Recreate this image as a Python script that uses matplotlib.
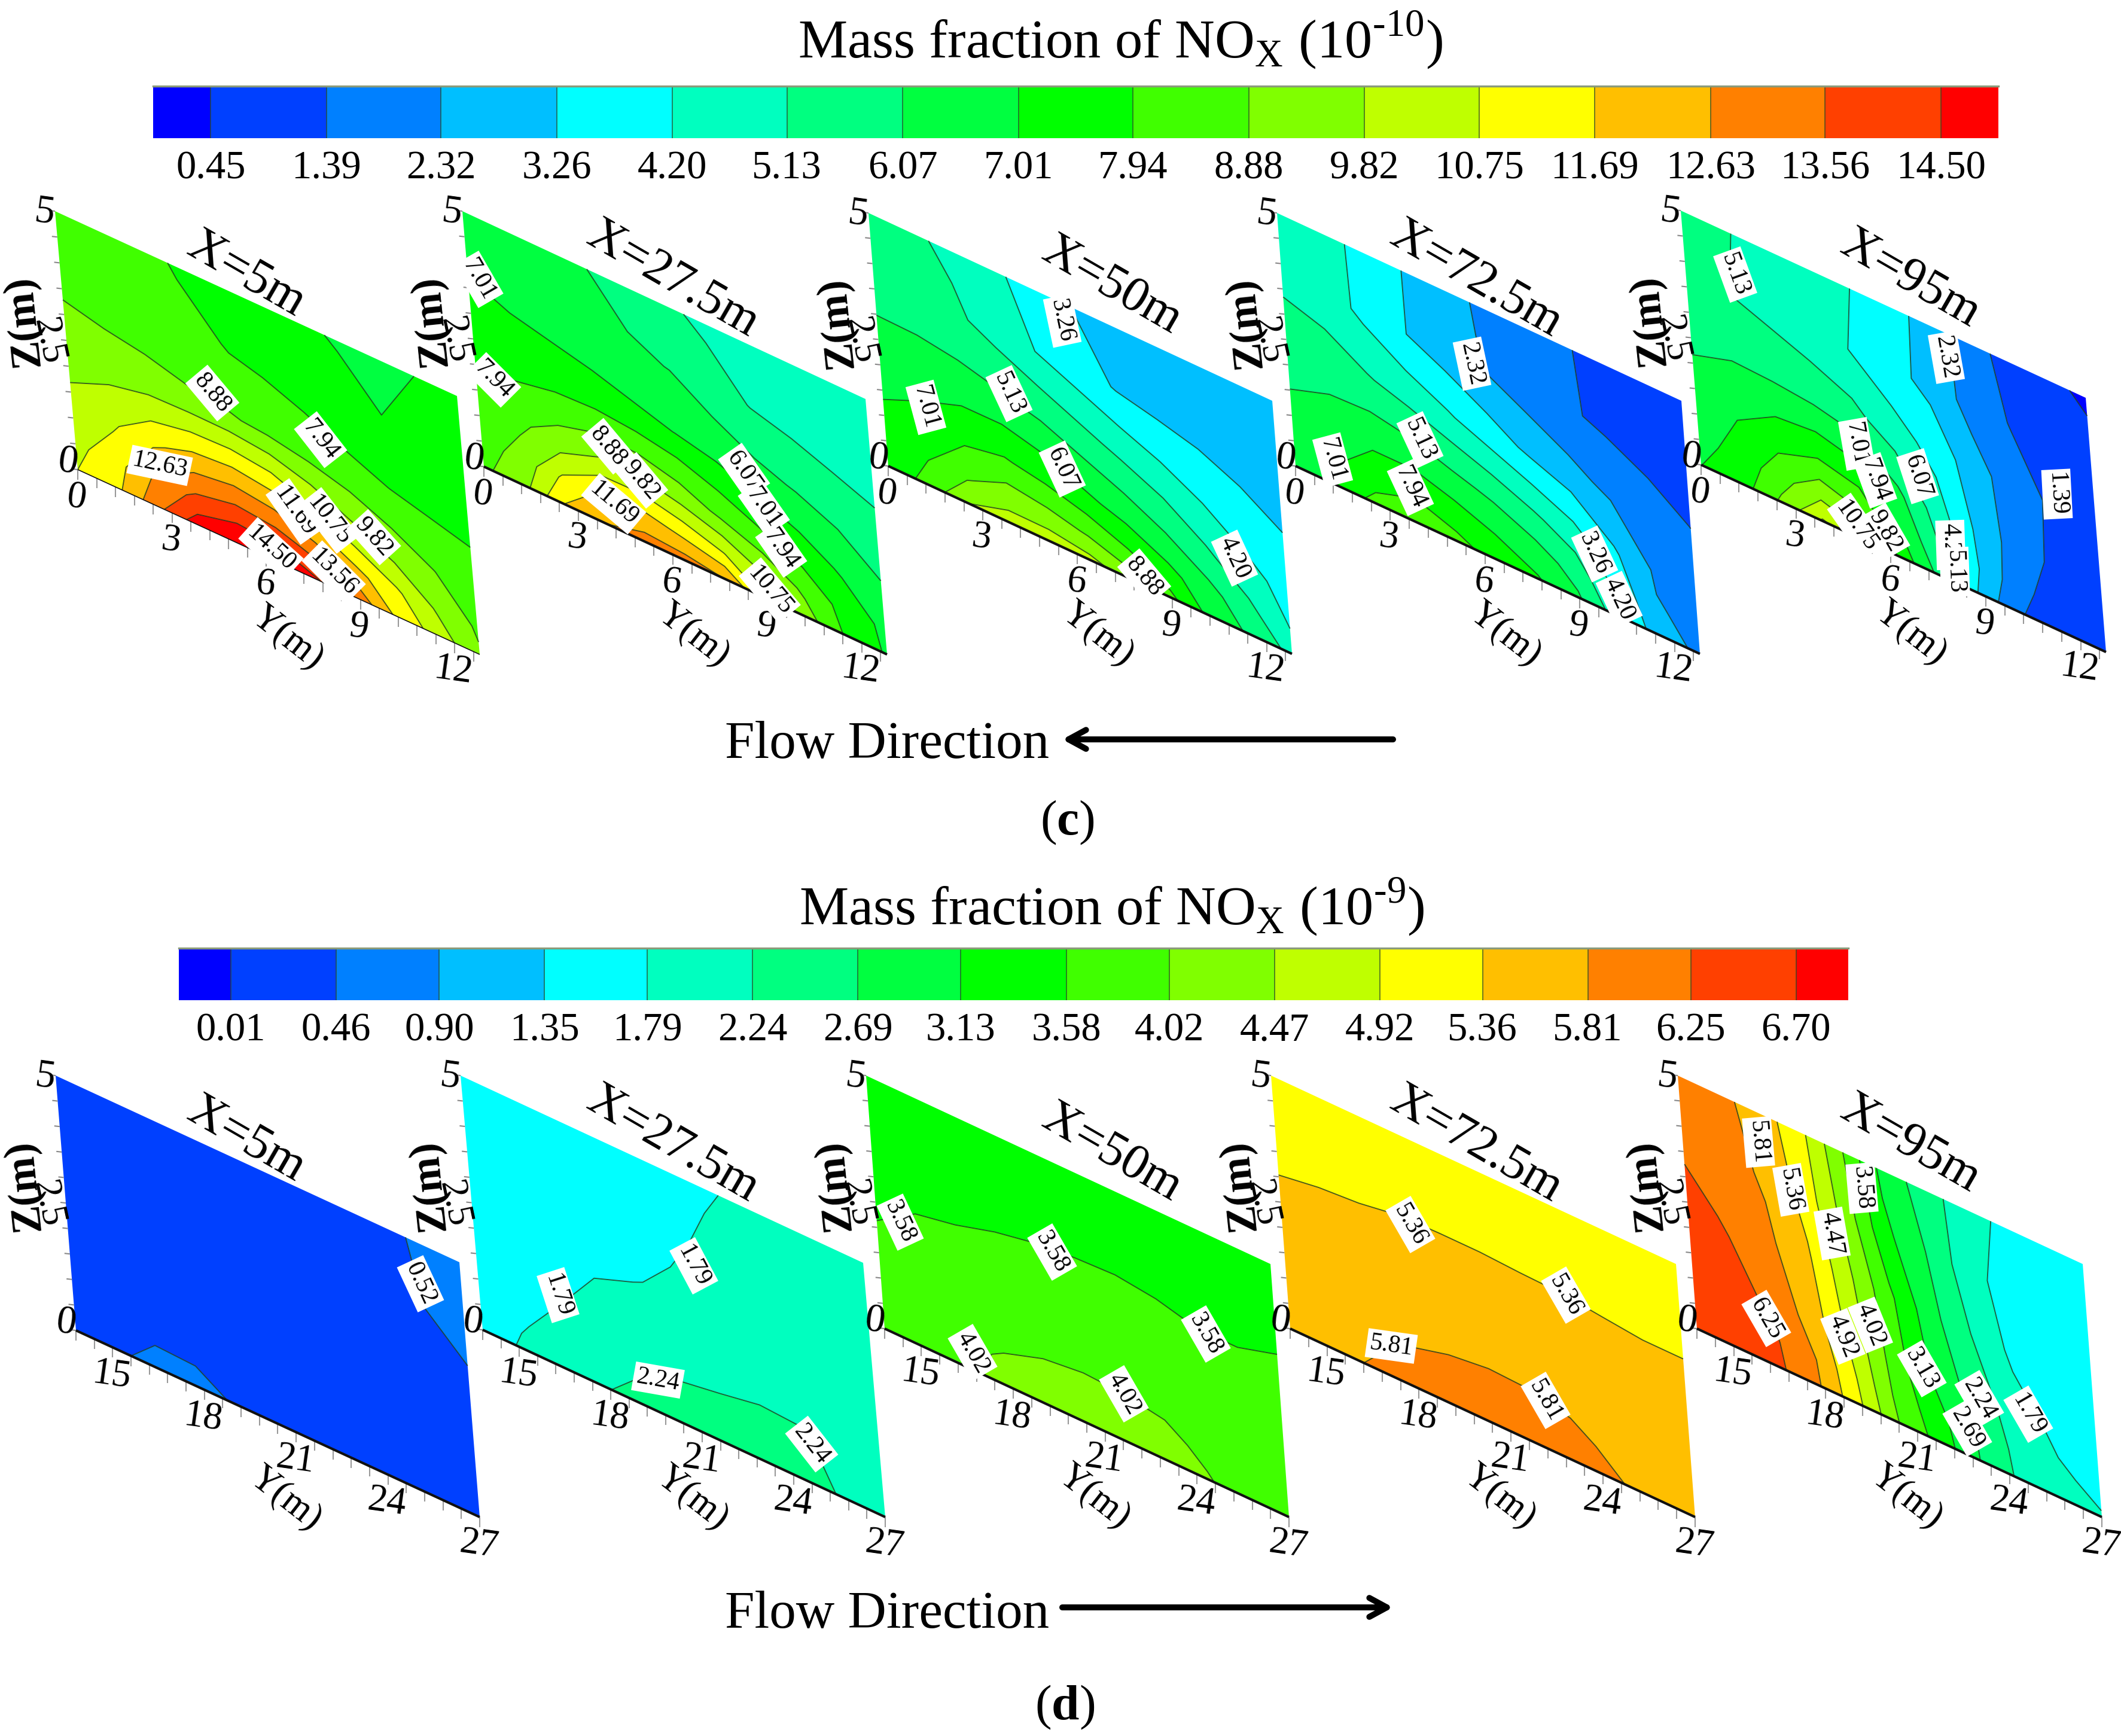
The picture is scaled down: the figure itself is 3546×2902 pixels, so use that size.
import numpy as np
import matplotlib
matplotlib.use("Agg")
import matplotlib.pyplot as plt
from matplotlib.colors import ListedColormap, BoundaryNorm
from matplotlib.patches import Polygon
from matplotlib.transforms import Affine2D

plt.rcParams["font.family"] = ["Liberation Serif", "DejaVu Serif"]
plt.rcParams["mathtext.fontset"] = "custom"
plt.rcParams["mathtext.rm"] = "Liberation Serif"
plt.rcParams["mathtext.bf"] = "Liberation Serif:bold"

W, H = 3546, 2902

BAND_COLORS = ["#0000ff", "#0040ff", "#0080ff", "#00bfff", "#00ffff", "#00ffbf", "#00ff80", "#00ff40",
               "#00ff00", "#40ff00", "#80ff00", "#bfff00", "#ffff00", "#ffbf00", "#ff8000", "#ff4000", "#ff0000"]

LEVELS_C = [0.45, 1.39, 2.32, 3.26, 4.20, 5.13, 6.07, 7.01, 7.94, 8.88, 9.82, 10.75, 11.69, 12.63, 13.56, 14.50]
LEVELS_D = [0.01, 0.46, 0.90, 1.35, 1.79, 2.24, 2.69, 3.13, 3.58, 4.02, 4.47, 4.92, 5.36, 5.81, 6.25, 6.70]

Z_NODES = [0, 0.5, 1.25, 2.5, 3.75, 5]
Y_NODES_C = [0, 1.28, 2.56, 3.84, 5.12, 6.4, 7.68, 8.96, 10.24, 11.52, 12.8]
Y_NODES_D = [13.8, 15.12, 16.44, 17.76, 19.08, 20.4, 21.72, 23.04, 24.36, 25.68, 27]

# rows go from Z=0 up to Z=5, columns along Y
c_x5 = [[10.75, 11.5, 13.3, 15.0, 15.6, 15.4, 14.55, 13.2, 11.4, 10.3, 9.0],
        [10.48, 11.3, 12.8, 13.8, 14.2, 14.0, 13.3, 12.0, 10.9, 9.7, 8.75],
        [10.07, 10.6, 11.5, 12.1, 12.3, 12.0, 11.1, 10.2, 9.45, 8.9, 8.4],
        [9.35, 9.3, 9.2, 9.05, 8.95, 8.75, 8.45, 8.2, 7.95, 7.75, 7.7],
        [8.6, 8.4, 8.3, 8.1, 7.97, 7.8, 7.6, 7.3, 7.05, 7.1, 7.3],
        [8.5, 8.3, 8.1, 7.9, 7.65, 7.4, 7.15, 6.95, 6.75, 7.03, 7.2]]
c_x27 = [[8.7, 9.5, 11.7, 12.6, 13.0, 13.0, 12.6, 10.6, 9.3, 7.8, 6.9],
         [8.5, 9.2, 10.9, 11.9, 12.0, 11.5, 10.8, 9.7, 8.7, 7.6, 6.8],
         [8.15, 8.7, 9.3, 9.9, 9.9, 9.4, 8.7, 8.1, 7.5, 6.9, 6.2],
         [7.55, 7.5, 7.5, 7.4, 7.2, 7.0, 6.7, 6.3, 6.0, 5.65, 5.35],
         [7.0, 6.8, 6.6, 6.4, 6.2, 6.05, 5.55, 5.1, 4.9, 4.7, 4.6],
         [6.8, 6.6, 6.4, 6.1, 5.75, 5.3, 4.95, 4.7, 4.55, 4.45, 4.4]]
c_x50 = [[7.3, 8.25, 9.82, 10.2, 10.35, 10.1, 9.4, 8.2, 6.7, 5.9, 4.85],
         [7.2, 7.9, 8.8, 9.4, 9.2, 8.8, 8.1, 7.3, 6.4, 5.4, 4.2],
         [7.05, 7.3, 7.8, 8.0, 7.7, 7.2, 6.7, 6.1, 5.3, 4.5, 3.9],
         [6.3, 6.4, 6.35, 6.2, 5.9, 5.4, 4.9, 4.4, 3.9, 3.5, 3.2],
         [5.7, 5.5, 5.3, 4.8, 4.2, 3.7, 3.2, 3.0, 2.9, 2.8, 2.75],
         [5.5, 5.3, 4.95, 4.4, 3.9, 3.26, 2.95, 2.8, 2.7, 2.65, 2.6]]
c_x72 = [[6.4, 7.3, 8.2, 8.7, 8.2, 7.6, 7.1, 6.2, 4.6, 2.6, 2.2],
         [6.2, 6.9, 7.6, 7.9, 7.5, 7.0, 6.5, 5.7, 4.0, 2.4, 2.1],
         [6.2, 6.5, 6.8, 6.7, 6.3, 5.9, 5.3, 4.6, 3.4, 2.2, 1.85],
         [5.6, 5.5, 5.2, 4.8, 4.3, 3.7, 3.1, 2.6, 2.1, 1.7, 1.38],
         [4.9, 4.7, 4.0, 3.3, 2.8, 2.3, 1.85, 1.5, 1.25, 1.05, 1.0],
         [4.7, 4.4, 4.1, 3.3, 2.7, 2.2, 1.8, 1.45, 1.25, 1.0, 0.85]]
c_x95 = [[7.0, 7.5, 9.05, 10.85, 10.2, 7.5, 5.6, 2.8, 1.39, 1.1, 0.95],
         [6.75, 7.3, 8.5, 9.6, 9.0, 7.0, 5.1, 3.1, 1.5, 1.1, 0.95],
         [6.4, 7.0, 7.6, 7.9, 7.5, 6.3, 4.6, 3.0, 1.75, 1.15, 0.95],
         [5.95, 6.0, 5.9, 5.7, 5.4, 4.6, 3.9, 2.7, 1.8, 1.2, 0.95],
         [5.4, 5.15, 4.9, 4.6, 4.2, 3.6, 3.0, 2.0, 1.35, 0.9, 0.7],
         [5.5, 5.2, 4.9, 4.6, 4.3, 3.7, 3.0, 1.9, 1.1, 0.6, 0.35]]

d_x5 = [[0.3, 0.38, 0.6, 0.58, 0.42, 0.3, 0.3, 0.3, 0.3, 0.3, 0.3],
        [0.3, 0.34, 0.44, 0.43, 0.36, 0.3, 0.3, 0.3, 0.3, 0.3, 0.3],
        [0.3, 0.3, 0.3, 0.3, 0.3, 0.3, 0.3, 0.3, 0.3, 0.3, 0.35],
        [0.3, 0.3, 0.3, 0.3, 0.3, 0.3, 0.3, 0.3, 0.3, 0.33, 0.4],
        [0.3, 0.3, 0.3, 0.3, 0.3, 0.3, 0.3, 0.3, 0.35, 0.46, 0.56],
        [0.3, 0.3, 0.3, 0.3, 0.3, 0.3, 0.3, 0.3, 0.38, 0.5, 0.72]]
d_x27 = [[1.5, 1.85, 2.0, 2.2, 2.4, 2.45, 2.45, 2.5, 2.45, 2.18, 2.05],
         [1.55, 1.75, 1.95, 2.1, 2.25, 2.35, 2.38, 2.4, 2.35, 2.12, 2.0],
         [1.55, 1.65, 1.78, 1.95, 2.05, 2.1, 2.15, 2.2, 2.2, 2.05, 1.95],
         [1.55, 1.6, 1.68, 1.72, 1.77, 1.85, 1.95, 2.0, 2.0, 1.97, 1.95],
         [1.55, 1.55, 1.55, 1.6, 1.65, 1.72, 1.85, 1.9, 1.92, 1.93, 1.93],
         [1.55, 1.55, 1.55, 1.55, 1.6, 1.65, 1.75, 1.85, 1.9, 1.9, 1.9]]
d_x50 = [[3.75, 3.85, 3.98, 4.13, 4.25, 4.3, 4.3, 4.25, 4.05, 3.85, 3.75],
         [3.72, 3.82, 3.95, 4.05, 4.12, 4.15, 4.15, 4.1, 3.95, 3.82, 3.75],
         [3.7, 3.75, 3.83, 3.88, 3.93, 3.95, 3.93, 3.9, 3.85, 3.78, 3.73],
         [3.53, 3.6, 3.62, 3.66, 3.7, 3.72, 3.72, 3.68, 3.63, 3.63, 3.66],
         [3.4, 3.42, 3.45, 3.47, 3.48, 3.49, 3.5, 3.5, 3.5, 3.5, 3.52],
         [3.3, 3.3, 3.32, 3.33, 3.34, 3.35, 3.35, 3.35, 3.35, 3.35, 3.35]]
d_x72 = [[5.6, 5.72, 5.83, 5.95, 6.02, 6.07, 6.05, 6.0, 5.85, 5.7, 5.62],
         [5.58, 5.68, 5.76, 5.87, 5.93, 5.97, 5.96, 5.9, 5.75, 5.64, 5.58],
         [5.52, 5.58, 5.63, 5.7, 5.74, 5.76, 5.75, 5.7, 5.62, 5.55, 5.52],
         [5.42, 5.45, 5.47, 5.49, 5.5, 5.5, 5.48, 5.47, 5.44, 5.42, 5.42],
         [5.28, 5.28, 5.28, 5.3, 5.3, 5.3, 5.3, 5.3, 5.3, 5.3, 5.3],
         [5.15, 5.15, 5.15, 5.15, 5.15, 5.15, 5.15, 5.15, 5.15, 5.15, 5.15]]
d_x95 = [[6.6, 6.5, 6.35, 5.87, 5.02, 4.02, 3.4, 2.69, 2.15, 1.9, 1.82],
         [6.55, 6.45, 6.3, 5.81, 4.92, 3.9, 3.3, 2.65, 2.1, 1.85, 1.7],
         [6.5, 6.4, 6.15, 5.6, 4.75, 3.8, 3.05, 2.5, 2.0, 1.7, 1.6],
         [6.4, 6.2, 5.9, 5.42, 4.55, 3.67, 2.85, 2.24, 1.7, 1.55, 1.55],
         [6.15, 6.0, 5.75, 5.2, 4.3, 3.25, 2.69, 2.0, 1.6, 1.5, 1.5],
         [6.1, 5.95, 5.6, 5.07, 4.1, 3.03, 2.5, 2.03, 1.7, 1.55, 1.5]]

X_NAMES = ["X=5m", "X=27.5m", "X=50m", "X=72.5m", "X=95m"]
X_LABEL_POS_C = [(411, 459), (1124, 467), (1858, 478), (2467, 467), (3193, 467)]
X_LABEL_POS_D = [(411, 1905), (1124, 1913), (1858, 1928), (2467, 1913), (3193, 1913)]

# corners as bottom-left, bottom-right, top-left, in picture pixels
CORNERS_C = [((130, 785), (802, 1094), (92, 353)),
             ((809, 780), (1483, 1094), (773, 353)),
             ((1485, 779), (2160, 1093), (1452, 356)),
             ((2166, 779), (2842, 1093), (2135, 356)),
             ((2844, 777), (3521, 1090), (2810, 352))]
CORNERS_D = [((127, 2224), (802, 2536), (93, 1798)),
             ((807, 2223), (1480, 2536), (770, 1798)),
             ((1479, 2221), (2155, 2536), (1448, 1798)),
             ((2157, 2221), (2834, 2536), (2125, 1798)),
             ((2837, 2221), (3514, 2536), (2805, 1798))]

LABELS_C = [
    [("8.88", 355, 657, -50), ("7.94", 536, 735, -52), ("12.63", 267, 778, -12), ("11.69", 493, 855, -55),
     ("10.75", 550, 870, -52), ("9.82", 625, 898, -48), ("14.50", 453, 917, -42), ("13.56", 558, 957, -45)],
    [("7.01", 800, 467, -60), ("7.94", 825, 635, -45), ("8.88", 1017, 746, -50), ("9.82", 1072, 803, -50),
     ("11.69", 1026, 842, -40), ("6.07", 1244, 788, -55), ("7.01", 1277, 849, -55), ("7.94", 1306, 918, -55),
     ("10.75", 1287, 987, -50)],
    [("3.26", 1776, 536, -78), ("5.13", 1687, 658, -65), ("7.01", 1548, 681, -75), ("6.07", 1776, 784, -65),
     ("4.20", 2064, 933, -65), ("8.88", 1913, 964, -50)],
    [("2.32", 2461, 608, -78), ("5.13", 2374, 735, -65), ("7.01", 2228, 769, -75), ("7.94", 2358, 815, -65),
     ("3.26", 2666, 926, -65), ("4.20", 2707, 1002, -65)],
    [("5.13", 2901, 459, -70), ("2.32", 3254, 597, -80), ("7.01", 3104, 742, -80), ("7.94", 3135, 803, -70),
     ("9.82", 3152, 888, -60), ("10.75", 3104, 880, -55), ("6.07", 3206, 796, -72), ("1.39", 3439, 826, -87),
     ("4.20", 3261, 911, -88), ("5.13", 3268, 956, -88)],
]
LABELS_D = [
    [("0.52", 703, 2146, -65)],
    [("1.79", 933, 2165, -72), ("1.79", 1160, 2116, -62), ("2.24", 1100, 2307, -10), ("2.24", 1357, 2414, -52)],
    [("3.58", 1505, 2043, -65), ("3.58", 1759, 2093, -60), ("3.58", 2016, 2230, -60), ("4.02", 1626, 2261, -60),
     ("4.02", 1879, 2330, -60)],
    [("5.36", 2358, 2047, -60), ("5.36", 2618, 2165, -60), ("5.81", 2326, 2250, -8), ("5.81", 2584, 2341, -60)],
    [("5.81", 2940, 1909, -85), ("5.36", 2994, 1989, -80), ("4.47", 3063, 2062, -80), ("3.58", 3113, 1986, -85),
     ("6.25", 2953, 2204, -60), ("4.92", 3081, 2234, -68), ("4.02", 3127, 2215, -68), ("3.13", 3213, 2288, -60),
     ("2.24", 3309, 2338, -60), ("2.69", 3289, 2387, -60), ("1.79", 3391, 2364, -60)],
]

fig = plt.figure(figsize=(W / 300, H / 300), dpi=300)
ax = fig.add_axes([0, 0, 1, 1])
ax.set_xlim(0, W)
ax.set_ylim(H, 0)
ax.axis("off")


def panel_transform(corners, y0, y1):
    bl, br, tl = corners
    sx = (br[0] - bl[0]) / (y1 - y0)
    sy = (br[1] - bl[1]) / (y1 - y0)
    zx = (tl[0] - bl[0]) / 5
    zy = (tl[1] - bl[1]) / 5
    return Affine2D(np.array([[sx, zx, bl[0] - sx * y0],
                              [sy, zy, bl[1] - sy * y0],
                              [0, 0, 1]]))


def draw_panel(values, y_nodes, corners, levels, labels, y_ticks, y_minor, bottom_lw):
    cmap = ListedColormap(BAND_COLORS[1:-1])
    cmap.set_under(BAND_COLORS[0])
    cmap.set_over(BAND_COLORS[-1])
    norm = BoundaryNorm(levels, cmap.N)
    pix = panel_transform(corners, y_nodes[0], y_nodes[-1])
    tr = pix + ax.transData
    yy, zz = np.meshgrid(y_nodes, Z_NODES)
    data = np.array(values)
    ax.contourf(yy, zz, data, levels=levels, cmap=cmap, norm=norm, extend="both", transform=tr, antialiased=True)
    ax.contour(yy, zz, data, levels=levels, colors="#1c3a1c", linewidths=0.45, alpha=0.8, transform=tr)

    # ticks are offset straight down / left in picture space
    for y in y_minor:
        px, py = pix.transform((y, 0))
        ax.plot([px, px], [py, py + 17], color="#999999", lw=0.5, solid_capstyle="butt")
    for z in np.arange(0, 5.01, 0.5):
        px, py = pix.transform((y_nodes[0], z))
        ax.plot([px - 9, px], [py - 1, py], color="#888888", lw=0.5, solid_capstyle="butt")
    a = pix.transform((y_nodes[0], 0))
    b = pix.transform((y_nodes[-1], 0))
    ax.plot([a[0], b[0]], [a[1], b[1]], color="#111111", lw=bottom_lw, solid_capstyle="butt")

    for y, lab in y_ticks:
        px, py = pix.transform((y, 0))
        ax.text(px - 2, py + 47, lab, fontsize=15.5, rotation=-8, ha="center", va="center")
    px, py = pix.transform((y_nodes[0], 5))
    ax.text(px - 17, py + 2, "5", fontsize=16, rotation=-8, ha="center", va="center")
    px, py = pix.transform((y_nodes[0], 2.5))
    ax.text(px - 30, py + 1, "2.5", fontsize=15, rotation=-78, ha="center", va="center")
    px, py = pix.transform((y_nodes[0], 0))
    ax.text(px - 17, py - 12, "0", fontsize=16, rotation=-8, ha="center", va="center")

    bl, br, tl = corners
    ax.text(bl[0] + 350, bl[1] + 281, "Y(m)", fontsize=15, rotation=-38, ha="center", va="center")
    ax.text(tl[0] - 52, tl[1] + 184, "Z(m)", fontsize=17, rotation=96, ha="center", va="center", fontweight="bold")

    frame = Polygon([bl, br, (br[0] + tl[0] - bl[0], br[1] + tl[1] - bl[1]), tl], closed=True,
                    transform=ax.transData, fill=False, edgecolor="none")
    ax.add_patch(frame)
    for txt, x, y, rot in labels:
        t = ax.text(x, y, txt, fontsize=10, rotation=rot, ha="center", va="center", rotation_mode="anchor",
                    bbox=dict(boxstyle="square,pad=0.12", fc="white", ec="none"))
        t.set_clip_path(frame)


def draw_colorbar(box, levels):
    x0, x1, y0, y1 = box
    cax = fig.add_axes([x0 / W, 1 - y1 / H, (x1 - x0) / W, (y1 - y0) / H])
    step = (levels[-1] - levels[0]) / (len(levels) - 1)
    edges = [levels[0] - step / 2] + list(levels) + [levels[-1] + step / 2]
    cax.pcolormesh(edges, [0, 1], [np.arange(len(BAND_COLORS))], cmap=ListedColormap(BAND_COLORS),
                   vmin=-0.5, vmax=len(BAND_COLORS) - 0.5)
    cax.vlines(levels, 0, 1, color="#2a4a2a", lw=0.4, alpha=0.8)
    cax.set_xlim(edges[0], edges[-1])
    cax.set_ylim(0, 1)
    cax.set_yticks([])
    cax.set_xticks(levels, [f"{v:.2f}" for v in levels], fontsize=16)
    cax.tick_params(axis="x", length=0, pad=5)
    for name, sp in cax.spines.items():
        sp.set_visible(False)
    cax.spines["top"].set_visible(True)
    cax.spines["top"].set_color("#8a9a7a")
    cax.spines["top"].set_linewidth(0.8)


ticks_c = [(0, "0"), (3, "3"), (6, "6"), (9, "9"), (12, "12")]
ticks_d = [(15, "15"), (18, "18"), (21, "21"), (24, "24"), (27, "27")]
minor_c = np.arange(0, 12.81, 0.6)
minor_d = np.arange(27, 13.7, -0.6)

panels_c = [c_x5, c_x27, c_x50, c_x72, c_x95]
panels_d = [d_x5, d_x27, d_x50, d_x72, d_x95]

for i in range(5):
    draw_panel(panels_c[i], Y_NODES_C, CORNERS_C[i], LEVELS_C, LABELS_C[i], ticks_c, minor_c, 0.4 if i == 0 else 1.0)
    draw_panel(panels_d[i], Y_NODES_D, CORNERS_D[i], LEVELS_D, LABELS_D[i], ticks_d, minor_d, 1.0)
    ax.text(*X_LABEL_POS_C[i], X_NAMES[i], fontsize=20, rotation=-30, ha="center", va="center")
    ax.text(*X_LABEL_POS_D[i], X_NAMES[i], fontsize=20, rotation=-30, ha="center", va="center")

draw_colorbar((256, 3341, 144, 231), LEVELS_C)
draw_colorbar((299, 3090, 1585, 1672), LEVELS_D)

ax.text(1334, 96, r"Mass fraction of NO$_{\mathrm{X}}$ (10$^{\text{-}10}$)", fontsize=22.2, ha="left", va="baseline")
ax.text(1336, 1545, r"Mass fraction of NO$_{\mathrm{X}}$ (10$^{\text{-}9}$)", fontsize=22.2, ha="left", va="baseline")

ax.text(1212, 1267, "Flow Direction", fontsize=21.4, ha="left", va="baseline")
ax.text(1212, 2721, "Flow Direction", fontsize=21.4, ha="left", va="baseline")
arrow = dict(arrowstyle="->,head_length=0.7,head_width=0.38", lw=2.4, color="black", shrinkA=0, shrinkB=0)
ax.annotate("", xy=(1776, 1236), xytext=(2329, 1236), arrowprops=arrow)
ax.annotate("", xy=(2329, 2687), xytext=(1776, 2687), arrowprops=arrow)

ax.text(1784, 1375, r"($\mathbf{c}$)", fontsize=20, ha="center", va="center")
ax.text(1780, 2854, r"($\mathbf{d}$)", fontsize=20, ha="center", va="center")

fig.savefig("out.png", dpi=300, facecolor="white")
